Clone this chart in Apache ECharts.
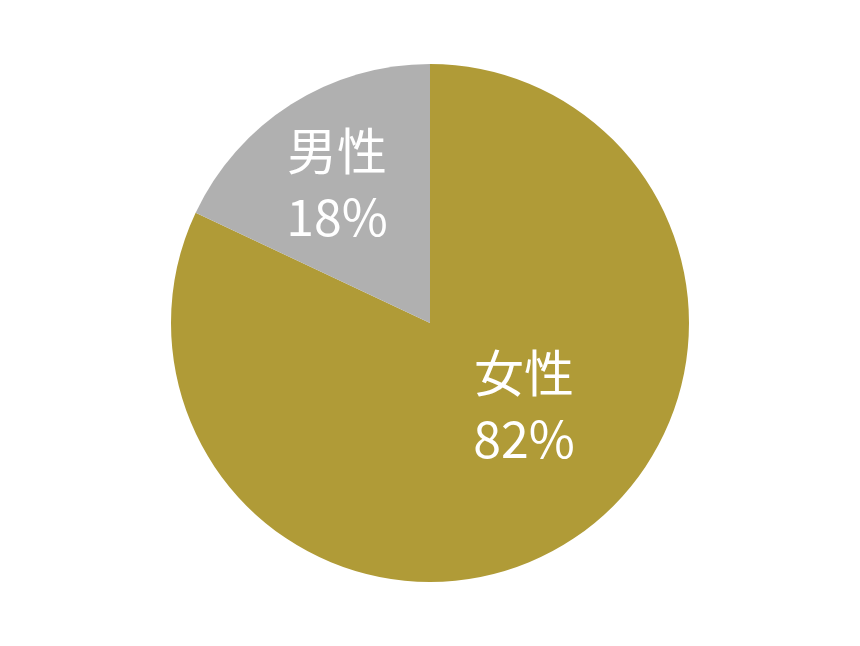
<!DOCTYPE html>
<html>
<head>
<meta charset="utf-8">
<script src="https://cdn.jsdelivr.net/npm/echarts@6/dist/echarts.min.js"></script>
<style>
html,body{margin:0;padding:0;background:#fff;}
#chart{width:860px;height:646px;}
</style>
</head>
<body>
<div id="chart"></div>
<script>
const categories = ['女性', '男性'];
const values = [82, 18];
const colors = ['#B09B37', '#B0B0B0'];
const labelOffsets = [[23, -29], [-22, -27]];

const chart = echarts.init(document.getElementById('chart'), null, {renderer: 'canvas'});
chart.setOption({
  backgroundColor: '#ffffff',
  animation: false,
  series: [{
    type: 'pie',
    center: [430, 323],
    radius: 259,
    startAngle: 90,
    clockwise: true,
    silent: true,
    data: categories.map((c, i) => ({
      name: c,
      value: values[i],
      itemStyle: {color: colors[i], borderWidth: 0}
    })),
    label: {
      show: true,
      position: 'inside',
      formatter: p => p.name + '\n' + p.value + '%',
      color: '#ffffff',
      fontSize: 50,
      lineHeight: 66,
      fontFamily: '"Noto Sans CJK JP", "Noto Sans", sans-serif',
      fontWeight: 'normal',
      align: 'center'
    },
    labelLine: {show: false},
    labelLayout: function (params) {
      const o = labelOffsets[params.dataIndex];
      return {dx: o[0], dy: o[1]};
    }
  }]
});
</script>
</body>
</html>
